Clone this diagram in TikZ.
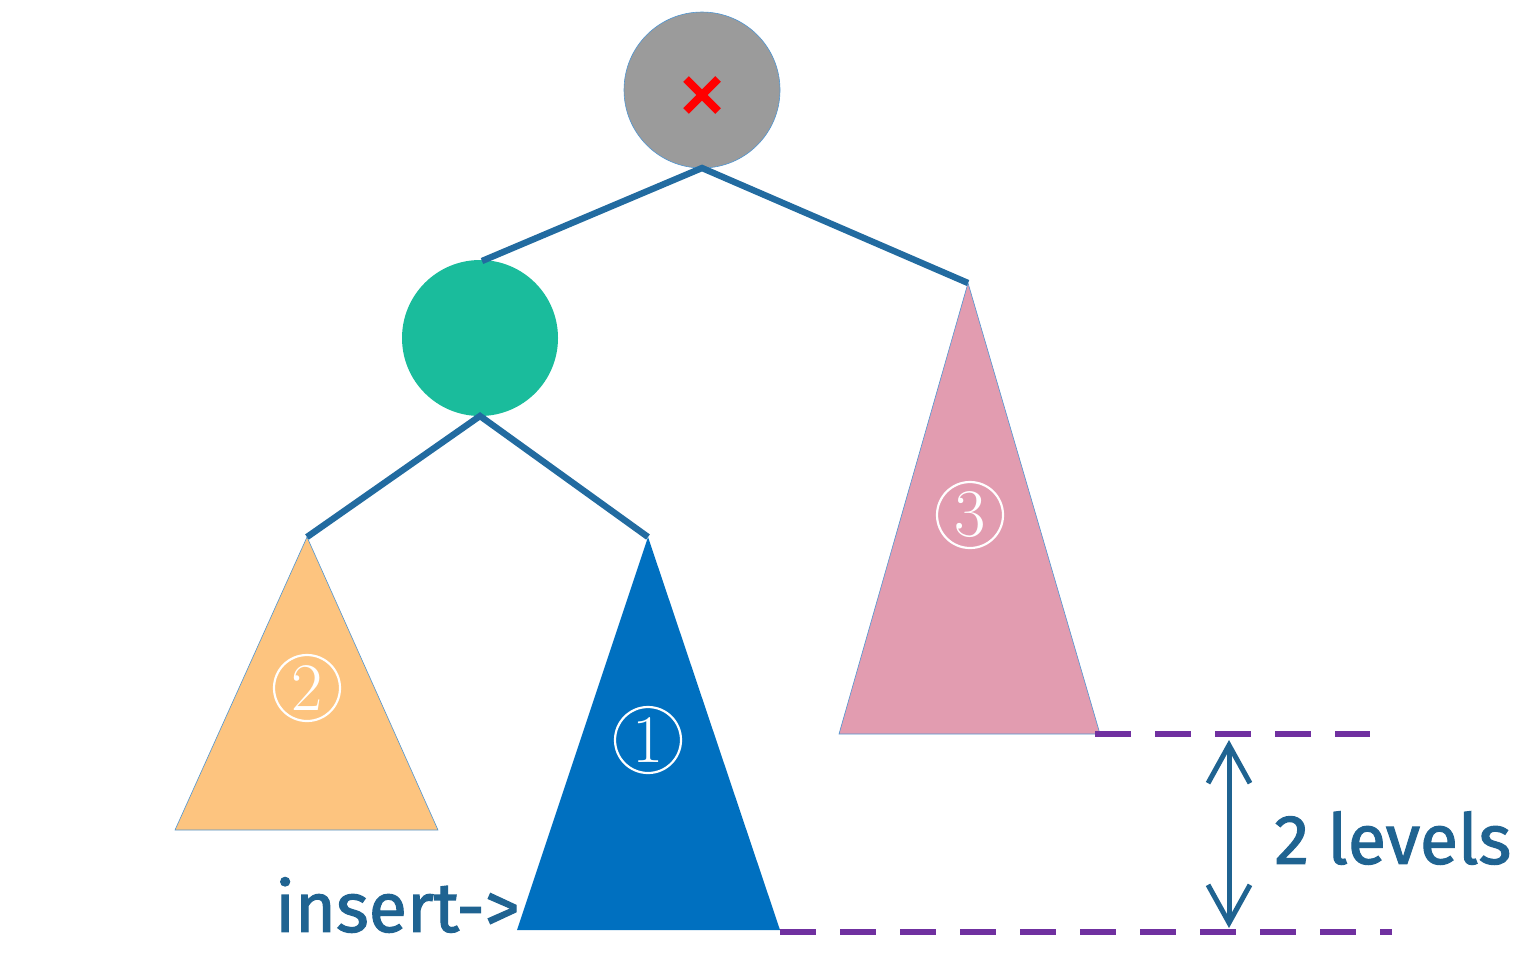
\documentclass[tikz,border=0pt]{standalone}
\usepackage{fontspec}
\newfontfamily\hand{Fira Sans}[FakeBold=1.6]
\usetikzlibrary{arrows.meta}
\definecolor{edgeblue}{RGB}{34,107,160}
\definecolor{txtblue}{RGB}{31,99,145}
\definecolor{rootgray}{RGB}{155,155,155}
\definecolor{greenn}{RGB}{26,188,156}
\definecolor{orangeT}{RGB}{253,196,127}
\definecolor{blueT}{RGB}{0,112,192}
\definecolor{pinkT}{RGB}{226,156,176}
\definecolor{purpleD}{RGB}{112,48,160}
\definecolor{thinblue}{RGB}{80,150,210}
\tikzset{
  edge/.style={draw=edgeblue, line width=3.2pt},
  tnode/.style={circle, minimum size=78pt, inner sep=0pt, draw=thinblue, line width=0.3pt},
  tri/.style={draw=thinblue, line width=0.3pt},
  circnum/.style={circle, draw=white, line width=1.1pt, text=white, minimum size=33pt, inner sep=0pt, font=\fontsize{34}{34}\selectfont},
  levelline/.style={draw=purpleD, line width=2.8pt, dash pattern=on 18pt off 12pt},
  lbl/.style={text=txtblue, font=\hand\fontsize{35}{35}\selectfont, inner sep=0pt}
}
\begin{document}
\begin{tikzpicture}[x=0.5pt,y=-0.5pt]
\useasboundingbox (0,0) rectangle (1540,976);
% nodes
\node[tnode, fill=rootgray] (root) at (702,90) {};
\node[tnode, fill=greenn, draw=none] (left) at (480,338) {};
% red cross
\draw[red, line width=4pt] (686,79) -- (718,111) (686,111) -- (718,79);
% triangle apexes
\coordinate (a2) at (307,537);
\coordinate (a1) at (648,537);
\coordinate (a3) at (968,283);
\coordinate (rb) at (702,168);
\coordinate (lt) at (482,261);
\coordinate (lb) at (480,416);
% triangles
\fill[orangeT] (a2) -- (438,830) -- (175,830) -- cycle;
\draw[tri] (a2) -- (438,830) -- (175,830) -- cycle;
\fill[blueT] (a1) -- (780,930) -- (517,930) -- cycle;
\fill[pinkT] (a3) -- (1100,734) -- (839,734) -- cycle;
\draw[tri] (a3) -- (1100,734) -- (839,734) -- cycle;
% edges
\draw[edge] (lt) -- (rb) -- (a3);
\draw[edge] (a2) -- (lb) -- (a1);
% circled numbers
\node[circnum] (n2) at (307,688) {2};
\node[circnum] (n1) at (648,740) {1};
\node[circnum] (n3) at (970,515) {3};
% dashed level lines
\coordinate (t1) at (1095,734);
\coordinate (t2) at (1370,734);
\coordinate (b1) at (780,932);
\coordinate (b2) at (1392,932);
\draw[levelline] (t1) -- (t2);
\draw[levelline] (b1) -- (b2);
% double arrow
\coordinate (ua) at (1229,740);
\coordinate (da) at (1229,928);
\draw[draw=txtblue, line width=2.5pt, line cap=round, {Straight Barb[length=19pt,width=21pt,line width=2.5pt]}-{Straight Barb[length=19pt,width=21pt,line width=2.5pt]}] (ua) -- (da);
% labels
\node[lbl, anchor=west] (lv) at (1274,838) {2 levels};
\node[lbl, anchor=east] (ins) at (520,905) {insert->};
\end{tikzpicture}
\end{document}
